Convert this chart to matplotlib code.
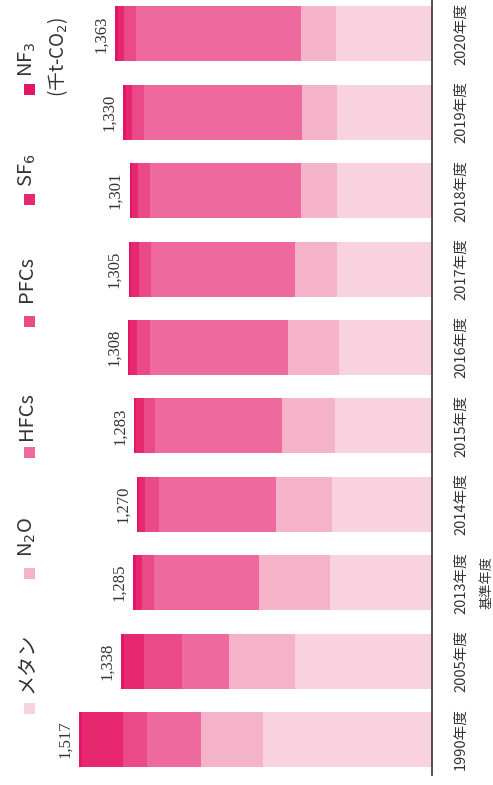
import matplotlib
matplotlib.use("Agg")
import matplotlib.pyplot as plt
from matplotlib.patches import Rectangle
from matplotlib.transforms import blended_transform_factory

plt.rcParams['font.family'] = ['Noto Sans CJK JP', 'DejaVu Sans']
plt.rcParams['mathtext.fontset'] = 'dejavusans'

# Emissions of non-CO2 greenhouse gases (千t-CO2)
years = ['1990年度', '2005年度', '2013年度', '2014年度', '2015年度',
         '2016年度', '2017年度', '2018年度', '2019年度', '2020年度']
totals = [1517, 1338, 1285, 1270, 1283, 1308, 1305, 1301, 1330, 1363]
methane = [725, 589, 437, 429, 416, 398, 407, 407, 407, 411]
n2o = [268, 286, 307, 242, 229, 221, 182, 156, 152, 152]
hfcs = [234, 199, 450, 503, 547, 594, 621, 651, 680, 709]
pfcs = [100, 164, 52, 61, 48, 56, 52, 52, 52, 52]
sf6 = [180, 85, 27, 24, 31, 28, 31, 24, 27, 27]
nf3 = [10, 15, 12, 11, 12, 11, 12, 11, 12, 12]

gas_labels = ['メタン', 'N$_2$O', 'HFCs', 'PFCs', 'SF$_6$', 'NF$_3$']
base_year_label = '基準年度'
unit_label = '(千t-CO$_2$)'

series = [methane, n2o, hfcs, pfcs, sf6, nf3]
colors = ['#f8d2df', '#f5b3ca', '#ee6a9e', '#ea4a88', '#e7286f', '#e3156a']

W, H = 493, 785
fig = plt.figure(figsize=(W / 100, H / 100), dpi=100)
fig.patch.set_facecolor('white')

# value axis runs right-to-left; category axis bottom-to-top
ax = fig.add_axes([0, 0, 432 / W, 1])
px_per_unit = 0.2325
ax.set_xlim(432 / px_per_unit, 0)
step = 78.4
ax.set_ylim(-45.5 / step, (H - 45.5) / step)
ax.axis('off')

idx = list(range(len(years)))
left = [0] * len(years)
for vals, col in zip(series, colors):
    ax.barh(idx, vals, left=left, height=0.70, color=col, edgecolor='none')
    left = [a + b for a, b in zip(left, vals)]

# baseline
ax.axvline(0, ymin=10 / H, ymax=1, color='#333333', lw=1.2, clip_on=False)

# totals above each bar
for i, t in enumerate(totals):
    ax.text(t + 26, i, f'{t:,}', rotation=90, ha='right', va='center',
            fontsize=12, family=['Liberation Serif'], color='#333333')

# category labels
tr = blended_transform_factory(fig.transFigure, ax.transData)
for i, y in enumerate(years):
    ax.text(461 / W, i, y, rotation=90, ha='center', va='center',
            fontsize=10.5, color='#333333', transform=tr)
ax.text(487 / W, 2, base_year_label, rotation=90, ha='center', va='center',
        fontsize=9.5, color='#333333', transform=tr)


def fx(x):
    return x / W


def fy(y):
    return 1 - y / H


# legend, laid out along the left edge
legend_sq = [708, 573, 452, 321, 199, 89]
legend_txt = [693, 557, 440, 302, 187, 77]
sq = 11
for lab, col, ys, yt in zip(gas_labels, colors, legend_sq, legend_txt):
    fig.patches.append(Rectangle((fx(29 - sq / 2), fy(ys + sq / 2)), sq / W, sq / H,
                                 transform=fig.transFigure, facecolor=col,
                                 edgecolor='none'))
    fig.text(fx(27), fy(yt), lab, rotation=90, ha='center', va='bottom',
             fontsize=14.5, color='#333333')
fig.text(fx(58), fy(97), unit_label, rotation=90, ha='center', va='bottom',
         fontsize=13.5, color='#333333')

fig.savefig('out.png', dpi=100, facecolor='white')
